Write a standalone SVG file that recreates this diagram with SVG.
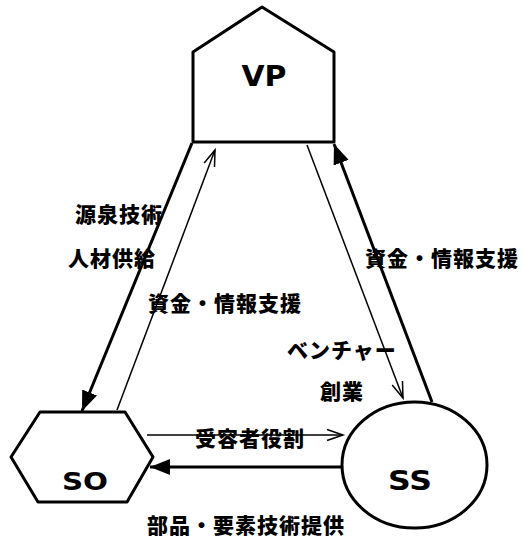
<svg xmlns="http://www.w3.org/2000/svg" width="522" height="539" viewBox="0 0 522 539">
<style>
.node{fill:#fff;stroke:#000;stroke-width:3;stroke-linejoin:round}
.lbl{font-family:"DejaVu Sans","Liberation Sans",sans-serif;font-weight:bold;text-anchor:middle;fill:#000}
.jp{font-family:"Noto Sans CJK JP","Noto Sans CJK SC",sans-serif;font-weight:900;font-size:21px;letter-spacing:1px;fill:#000}
.thick{stroke:#000;stroke-width:3;fill:none}
.thin{stroke:#000;stroke-width:1.5;fill:none}
</style>
<defs>
<marker id="fill" markerUnits="userSpaceOnUse" markerWidth="22" markerHeight="18" refX="20" refY="8" orient="auto">
<path d="M0,0 L20,8 L0,16 Z" fill="#000"/>
</marker>
<marker id="open" markerUnits="userSpaceOnUse" markerWidth="20" markerHeight="14" refX="17" refY="7" orient="auto">
<path d="M1,1.5 L17,7 L1,12.5" fill="none" stroke="#000" stroke-width="1.5"/>
</marker>
</defs>
<rect width="522" height="539" fill="#fff"/>
<g id="connectors">
<line class="thick" x1="192" y1="143" x2="82" y2="411" marker-end="url(#fill)"/>
<line class="thin" x1="117" y1="410" x2="215" y2="150" marker-end="url(#open)"/>
<line class="thin" x1="307" y1="145" x2="403" y2="398" marker-end="url(#open)"/>
<line class="thick" x1="432" y1="402" x2="334" y2="144" marker-end="url(#fill)"/>
<line class="thin" x1="147" y1="435" x2="343" y2="435" marker-end="url(#open)"/>
<line class="thick" x1="342" y1="467" x2="150" y2="467" marker-end="url(#fill)"/>
</g>
<g id="VP">
<path class="node" d="M262,7 L334,52 L334,142 L193,142 L193,52 Z"/>
<text class="lbl" x="264" y="86" font-size="29" textLength="45" lengthAdjust="spacingAndGlyphs">VP</text>
</g>
<g id="SO">
<path class="node" d="M11,457 L40,412 L125,412 L153,457 L127,502 L38,502 Z"/>
<text class="lbl" x="85" y="490" font-size="25" textLength="46" lengthAdjust="spacingAndGlyphs">SO</text>
</g>
<g id="SS">
<ellipse class="node" cx="414.5" cy="465" rx="72.5" ry="63"/>
<text class="lbl" x="410" y="490" font-size="27" textLength="44" lengthAdjust="spacingAndGlyphs">SS</text>
</g>
<g id="labels">
<text class="jp" x="75" y="222">源泉技術</text>
<text class="jp" x="68" y="266">人材供給</text>
<text class="jp" x="148" y="311">資金・情報支援</text>
<text class="jp" x="365" y="266">資金・情報支援</text>
<text class="jp" x="287" y="358">ベンチャー</text>
<text class="jp" x="320" y="399">創業</text>
<text class="jp" x="195" y="446">受容者役割</text>
<text class="jp" x="147" y="533">部品・要素技術提供</text>
</g>
</svg>
